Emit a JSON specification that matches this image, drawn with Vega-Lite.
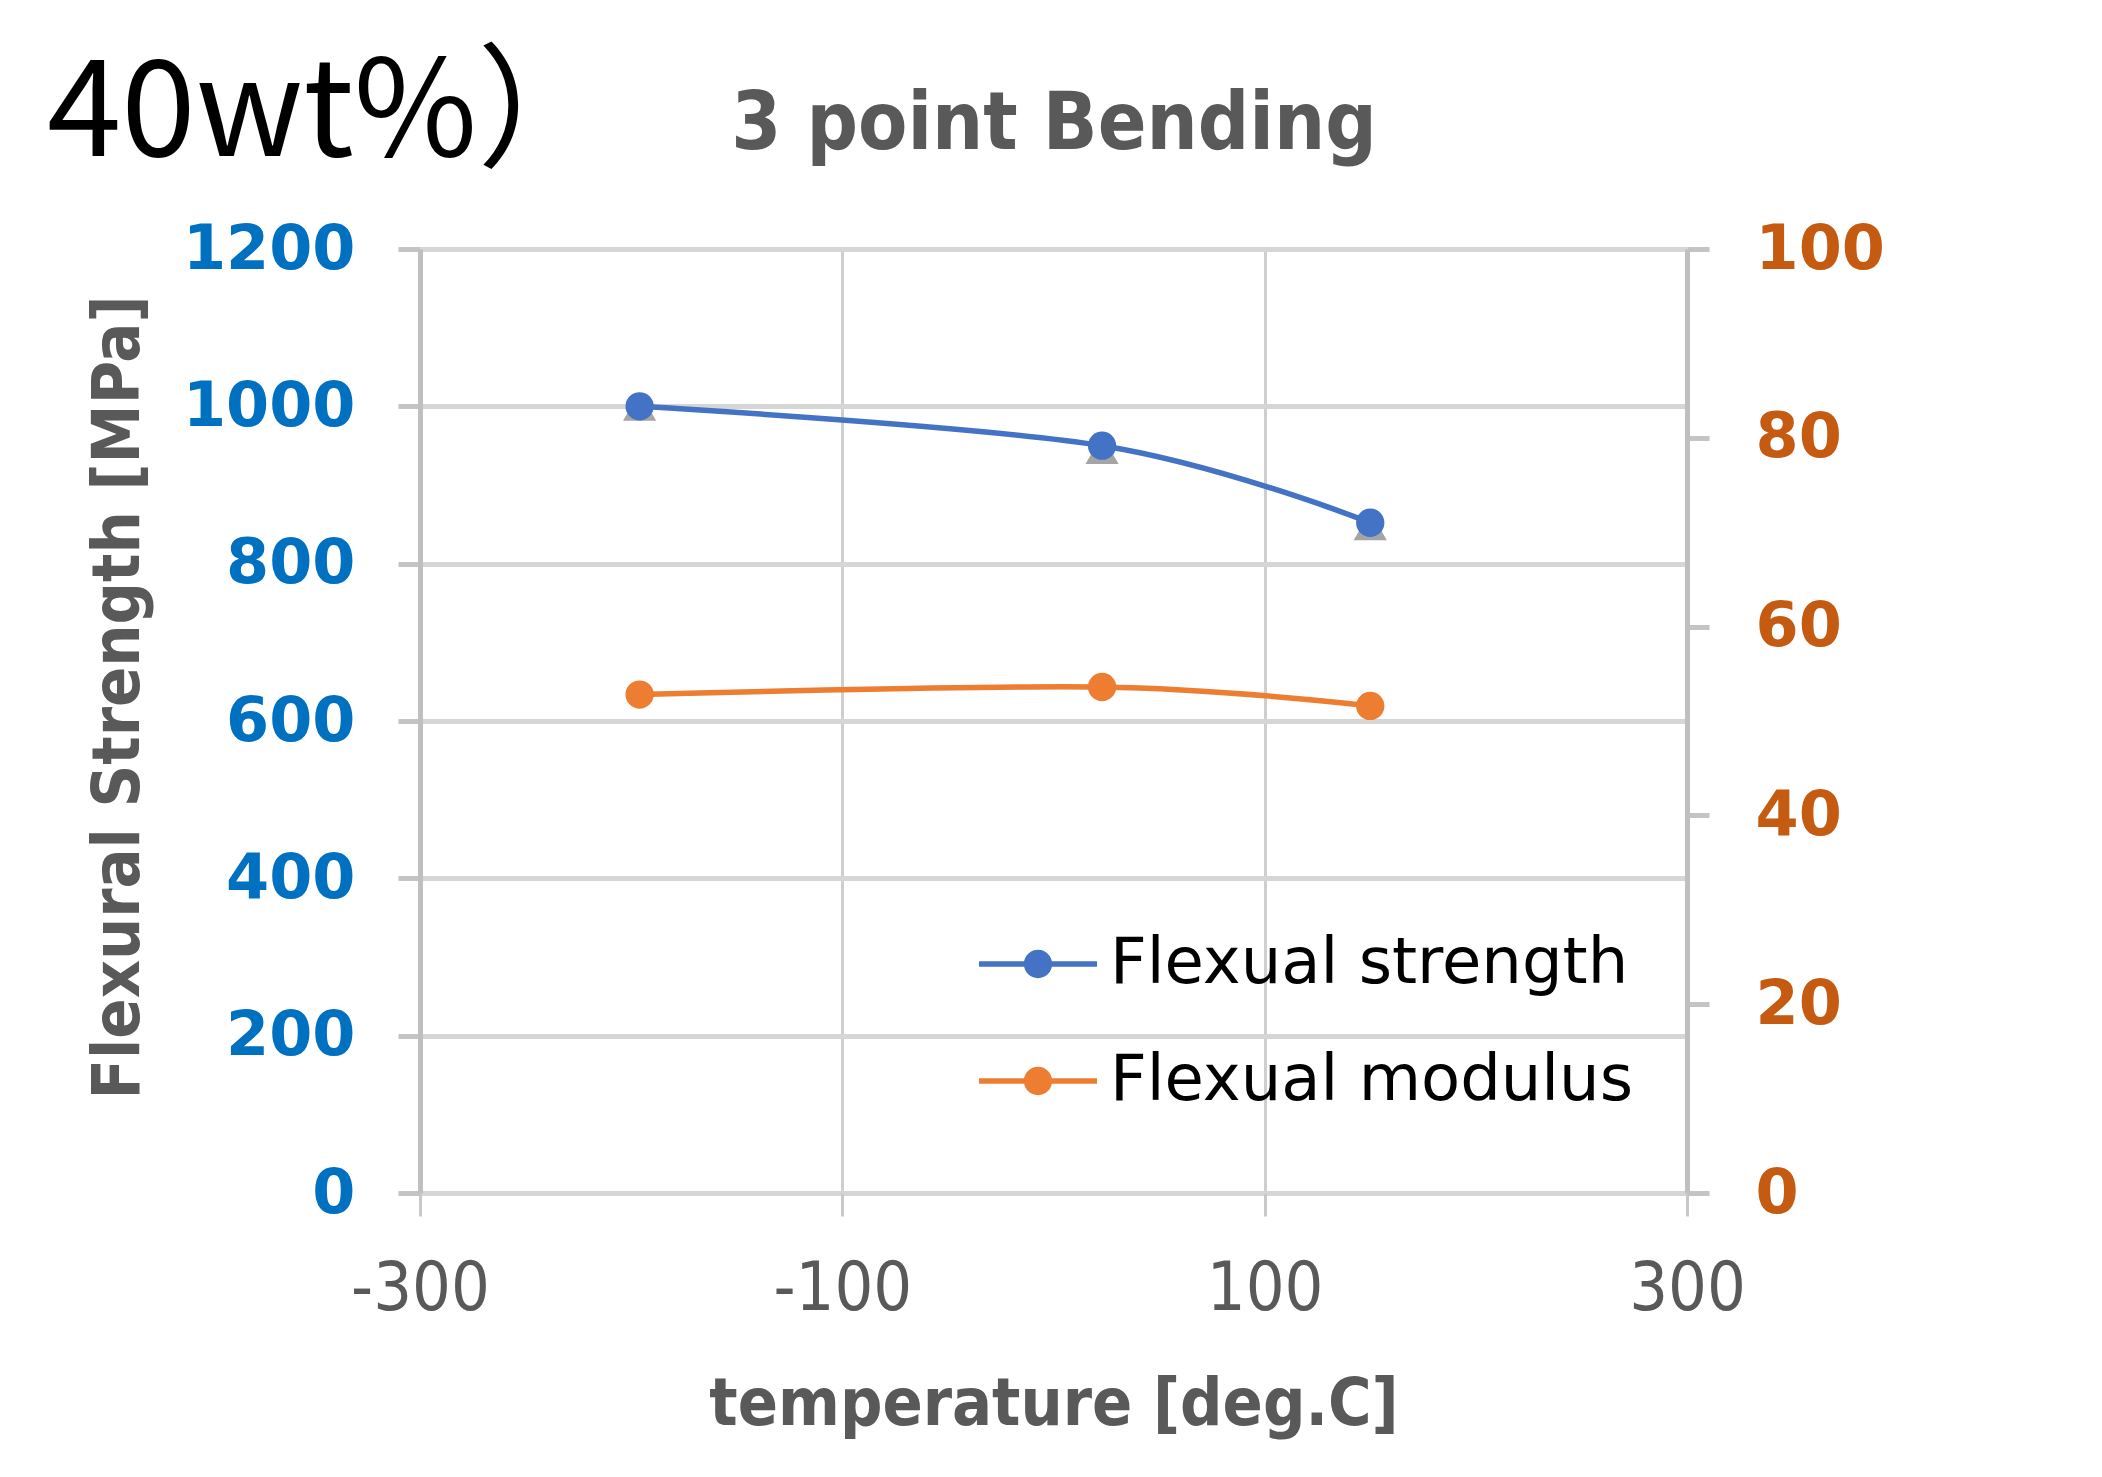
{
  "$schema": "https://vega.github.io/schema/vega-lite/v6.json",
  "width": 1267,
  "height": 944,
  "autosize": {"type": "none"},
  "padding": {"left": 420, "top": 249, "right": 415, "bottom": 284},
  "background": "white",
  "config": {"view": {"stroke": null}},
  "title": {
    "text": "40wt%）",
    "anchor": "start",
    "frame": "group",
    "dx": -373,
    "dy": 210,
    "baseline": "alphabetic",
    "font": "Noto Sans CJK JP",
    "fontSize": 134,
    "fontWeight": "normal",
    "color": "#000000"
  },
  "datasets": {
    "series": [
      {"temp": -196, "series": "Flexual strength", "value": 1000},
      {"temp": 23, "series": "Flexual strength", "value": 950},
      {"temp": 150, "series": "Flexual strength", "value": 852},
      {"temp": -196, "series": "Flexual modulus", "value": 52.8},
      {"temp": 23, "series": "Flexual modulus", "value": 53.6},
      {"temp": 150, "series": "Flexual modulus", "value": 51.6}
    ],
    "gray": [
      {"temp": -196, "value": 1000},
      {"temp": 23, "value": 945},
      {"temp": 150, "value": 848}
    ]
  },
  "data": {"name": "series"},
  "layer": [
    {
      "encoding": {
        "x": {
          "field": "temp", "type": "quantitative",
          "scale": {"domain": [-300, 300], "nice": false, "zero": false},
          "axis": {
            "orient": "bottom",
            "values": [-300, -100, 100, 300],
            "labelExpr": "datum.value < 0 ? '-' + abs(datum.value) : '' + datum.value",
            "labelFlush": false,
            "grid": true, "gridColor": "#CFCFCF", "gridWidth": 3,
            "ticks": true, "tickSize": 23, "tickColor": "#C8C8C8", "tickWidth": 3,
            "domain": false,
            "labelFont": "DejaVu Sans Condensed", "labelFontSize": 68, "labelColor": "#595959",
            "labelPadding": 39,
            "title": "temperature [deg.C]",
            "titleFont": "DejaVu Sans Condensed", "titleFontWeight": "bold", "titleFontSize": 66,
            "titleColor": "#595959", "titleY": 231, "titleBaseline": "alphabetic"
          }
        },
        "y": {
          "field": "value", "type": "quantitative",
          "scale": {"domain": [0, 1200], "nice": false},
          "axis": {
            "orient": "left",
            "values": [0, 200, 400, 600, 800, 1000, 1200],
            "format": "d",
            "labelLimit": 500,
            "grid": true, "gridColor": "#D6D6D6", "gridWidth": 5,
            "domain": true, "domainColor": "#BFBFBF", "domainWidth": 5,
            "ticks": true, "tickSize": 22, "tickColor": "#C4C4C4", "tickWidth": 5,
            "labelFont": "DejaVu Sans", "labelFontWeight": "bold", "labelFontSize": 62,
            "labelColor": "#0070C0", "labelPadding": 43,
            "title": "Flexural Strength [MPa]",
            "titleFont": "DejaVu Sans Condensed", "titleFontWeight": "bold", "titleFontSize": 66,
            "titleColor": "#595959", "titleX": -282, "titleY": 448, "titleBaseline": "alphabetic"
          }
        }
      },
      "layer": [
        {
          "data": {"name": "gray"},
          "mark": {"type": "point", "shape": "triangle-up", "filled": true, "size": 1100, "opacity": 1, "color": "#A5A5A5"}
        },
        {
          "transform": [{"filter": "datum.series == 'Flexual strength'"}],
          "encoding": {
            "color": {
              "field": "series", "type": "nominal",
              "scale": {"domain": ["Flexual strength", "Flexual modulus"], "range": ["#4472C4", "#ED7D31"]},
              "legend": {
                "orient": "none", "legendX": 559, "legendY": 656,
                "title": null,
                "symbolType": "M-1,-0.045L1,-0.045L1,0.045L-1,0.045Z M-0.24,0A0.24,0.24,0,1,1,0.24,0A0.24,0.24,0,1,1,-0.24,0Z",
                "symbolSize": 13924, "symbolStrokeWidth": 0, "symbolOpacity": 1,
                "labelFont": "DejaVu Sans", "labelFontSize": 64, "labelColor": "#000000",
                "labelOffset": 13, "rowPadding": 26, "padding": 0, "labelLimit": 1000
              }
            }
          },
          "layer": [
            {"mark": {"type": "point", "filled": true, "size": 800, "opacity": 1}},
            {"mark": {"type": "line", "strokeWidth": 5.5, "interpolate": "cardinal"}}
          ]
        }
      ]
    },
    {
      "transform": [{"filter": "datum.series == 'Flexual modulus'"}],
      "encoding": {
        "x": {
          "field": "temp", "type": "quantitative",
          "scale": {"domain": [-300, 300], "nice": false, "zero": false},
          "axis": {
            "orient": "top",
            "labels": false, "ticks": false, "domain": false, "grid": false,
            "title": "3 point Bending",
            "titleFont": "DejaVu Sans Condensed", "titleFontWeight": "bold", "titleFontSize": 80,
            "titleColor": "#595959", "titleY": -101, "titleBaseline": "alphabetic"
          }
        },
        "y": {
          "field": "value", "type": "quantitative",
          "scale": {"domain": [0, 100], "nice": false},
          "axis": {
            "orient": "right",
            "values": [0, 20, 40, 60, 80, 100],
            "grid": false,
            "domain": true, "domainColor": "#BFBFBF", "domainWidth": 5,
            "ticks": true, "tickSize": 22, "tickColor": "#C4C4C4", "tickWidth": 5,
            "labelFont": "DejaVu Sans", "labelFontWeight": "bold", "labelFontSize": 62,
            "labelColor": "#C55A11", "labelPadding": 46,
            "title": null
          }
        },
        "color": {"field": "series", "type": "nominal"}
      },
      "layer": [
        {"mark": {"type": "point", "filled": true, "size": 800, "opacity": 1}},
        {"mark": {"type": "line", "strokeWidth": 5.5, "interpolate": "cardinal"}}
      ]
    }
  ],
  "resolve": {"scale": {"y": "independent"}, "axis": {"x": "independent"}}
}
